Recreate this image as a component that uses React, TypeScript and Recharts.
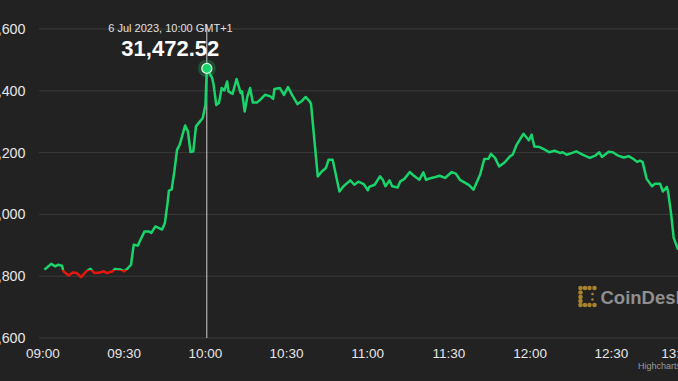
import { LineChart, Line, XAxis, YAxis, CartesianGrid, ReferenceLine, ReferenceDot } from "recharts";

// minutes after 09:00 (GMT+1), 6 Jul 2023
const minutes = [
  0, 2.5, 4, 5, 6.5, 7, 9, 10.5, 12, 13.5, 15.5, 17, 18.5, 20.5, 22, 23, 25, 26, 28, 29.5,
  30.5, 32, 33, 34.5, 35.5, 37, 38.5, 39.5, 41, 43.5, 44.5, 45.5, 46, 47, 48, 49, 50, 52, 53, 54,
  55, 56, 57.5, 58.5, 59.5, 60, 62, 62.5, 63.5, 64.5, 65.5, 66.5, 67.5, 68, 69.5, 71, 72.5, 73, 74, 75,
  76, 77, 78.5, 79.5, 81.5, 83.5, 84.5, 85, 87, 88.5, 90, 91.5, 93.5, 95, 96.5, 98, 98.5, 101, 102.5, 104,
  105, 106.5, 109, 110.5, 113, 114.5, 116, 118, 119.5, 120, 122, 124, 125, 126, 127.5, 128.5, 130.5, 131.5, 133, 135,
  136.5, 138.5, 140, 141, 143, 144.5, 146, 148, 150.5, 152, 153.5, 155.5, 157, 158.5, 161, 162.5, 164, 165, 166.5, 168,
  170, 172, 173, 174.5, 177, 179, 180, 181, 183, 185, 186.5, 188.5, 190.5, 191.5, 193, 195, 196.5, 199, 201.5, 203.5,
  205, 206, 208.5, 210, 212, 214, 216, 217.5, 219, 220, 221, 222.5, 224.5, 225.5, 227.5, 228.5, 230, 230.5, 231.5, 232.5,
  234, 235.5,
];

const prices = [
  30821, 30840, 30832, 30837, 30834, 30816, 30802, 30812, 30810, 30797, 30816, 30824, 30810, 30812, 30816, 30810, 30815, 30823, 30822, 30816,
  30823, 30837, 30902, 30899, 30918, 30945, 30945, 30940, 30961, 30951, 30972, 31037, 31077, 31080, 31139, 31209, 31226, 31288, 31269, 31202,
  31204, 31285, 31301, 31312, 31355, 31472.52, 31441, 31420, 31354, 31361, 31409, 31401, 31430, 31398, 31390, 31438, 31393, 31398, 31333, 31382,
  31409, 31362, 31362, 31369, 31387, 31382, 31374, 31406, 31409, 31387, 31412, 31387, 31357, 31366, 31380, 31366, 31358, 31123, 31139, 31150,
  31177, 31177, 31074, 31091, 31110, 31096, 31106, 31098, 31078, 31089, 31096, 31123, 31112, 31091, 31110, 31091, 31087, 31107, 31115, 31137,
  31125, 31112, 31136, 31112, 31118, 31121, 31125, 31118, 31137, 31132, 31112, 31102, 31094, 31080, 31129, 31179, 31180, 31196, 31183, 31155,
  31168, 31188, 31193, 31226, 31261, 31240, 31258, 31220, 31218, 31209, 31201, 31206, 31199, 31201, 31193, 31199, 31204, 31193, 31183, 31190,
  31201, 31186, 31203, 31201, 31190, 31184, 31188, 31180, 31170, 31174, 31170, 31115, 31091, 31099, 31099, 31074, 31089, 31069, 31005, 30924,
  30889, 30880,
];

const yTicks = [30600, 30800, 31000, 31200, 31400, 31600];
const xTicks = [0, 30, 60, 90, 120, 150, 180, 210, 240];

const hoverMinute = 60;
const hoverPrice = 31472.52;
const hoverLabel = "6 Jul 2023, 10:00 GMT+1";

const data = minutes.map((m, i) => ({ m, price: prices[i] }));

const GREEN = "#19d46a";
const RED = "#e3170d";
const FONT = "'Liberation Sans', Arial, sans-serif";

// line turns red below the opening price
const open = prices[0];
const maxP = Math.max(...prices);
const minP = Math.min(...prices);
const zoneOffset = (maxP - open) / (maxP - minP);

const fmtTime = (m: number) => {
  const h = 9 + Math.floor(m / 60);
  const mm = m % 60;
  return `${String(h).padStart(2, "0")}:${String(mm).padStart(2, "0")}`;
};

const XTick = (props: any) => {
  const { x, y, payload } = props;
  const last = payload.value === xTicks[xTicks.length - 1];
  return (
    <text
      x={last ? 695 : x - 1.5}
      y={y}
      dy="0.71em"
      textAnchor={last ? "end" : "middle"}
      fill="#e6e6e6"
      fontSize={13.5}
      fontFamily={FONT}
    >
      {fmtTime(payload.value)}
    </text>
  );
};

const YTick = (props: any) => {
  const { y, payload } = props;
  return (
    <text x={25.5} y={y} dy="0.355em" textAnchor="end" fill="#e6e6e6" fontSize={14.3} fontFamily={FONT}>
      {payload.value.toLocaleString("en-US")}
    </text>
  );
};

const HoverDot = (props: any) => {
  const { cx, cy } = props;
  return (
    <g>
      <circle cx={cx} cy={cy} r={9} fill={GREEN} fillOpacity={0.25} />
      <circle cx={cx} cy={cy} r={5} fill={GREEN} stroke="#e8ffe8" strokeWidth={1.2} />
    </g>
  );
};

export default function App() {
  return (
    <div
      style={{
        position: "absolute",
        left: 0,
        top: 0,
        width: 678,
        height: 381,
        overflow: "hidden",
        background: "#222222",
        fontFamily: FONT,
      }}
    >
      <LineChart width={700} height={381} data={data} margin={{ top: 29, right: 6, bottom: 0, left: 0 }}>
        <defs>
          <linearGradient id="zone" x1="0" y1="0" x2="0" y2="1">
            <stop offset={0} stopColor={GREEN} />
            <stop offset={zoneOffset} stopColor={GREEN} />
            <stop offset={zoneOffset} stopColor={RED} />
            <stop offset={1} stopColor={RED} />
          </linearGradient>
        </defs>
        <CartesianGrid vertical={false} stroke="#3a3a3a" strokeWidth={1} />
        <XAxis
          dataKey="m"
          type="number"
          domain={[-2, 240]}
          ticks={xTicks}
          axisLine={false}
          tickLine={false}
          tickMargin={4}
          height={43}
          tick={<XTick />}
          interval={0}
        />
        <YAxis
          type="number"
          domain={[30600, 31600]}
          ticks={yTicks}
          axisLine={false}
          tickLine={false}
          width={39}
          tick={<YTick />}
          interval={0}
        />
        <ReferenceLine
          segment={[
            { x: hoverMinute, y: 31615 },
            { x: hoverMinute, y: 30600 },
          ]}
          stroke="#cfcfcf"
          strokeWidth={1}
          ifOverflow="visible"
        />
        <Line
          type="linear"
          dataKey="price"
          stroke="url(#zone)"
          strokeWidth={2.5}
          dot={false}
          activeDot={false}
          isAnimationActive={false}
          strokeLinejoin="round"
        />
        <ReferenceDot x={hoverMinute} y={hoverPrice} shape={<HoverDot />} ifOverflow="visible" />
      </LineChart>

      <svg width={678} height={381} style={{ position: "absolute", left: 0, top: 0, pointerEvents: "none" }}>
        <text x={170.5} y={32} textAnchor="middle" fill="#e0e0e0" fontSize={11} fontFamily={FONT}>
          {hoverLabel}
        </text>
        <text x={170.3} y={56} textAnchor="middle" fill="#ffffff" fontSize={22} fontWeight="bold" fontFamily={FONT}>
          {hoverPrice.toLocaleString("en-US", { minimumFractionDigits: 2 })}
        </text>

        <g fill="#a8832a">
          {[288, 292.5, 297, 301, 305].map((cy) => (
            <circle key={"l" + cy} cx={580.5} cy={cy} r={2.3} />
          ))}
          {[585, 589.5, 594.5].map((cx) => (
            <circle key={"t" + cx} cx={cx} cy={288} r={2.3} />
          ))}
          {[585, 589.5, 594.5].map((cx) => (
            <circle key={"b" + cx} cx={cx} cy={305} r={2.3} />
          ))}
          <circle cx={592.5} cy={294} r={1.3} />
          <circle cx={592.5} cy={299.5} r={1.3} />
        </g>
        <text x={600.5} y={303.5} fill="#8f8f8f" fontSize={18.5} fontWeight="bold" fontFamily={FONT}>
          CoinDesk
        </text>
        <text x={638} y={369} fill="#9a9a9a" fontSize={9} fontFamily={FONT}>
          Highcharts.com
        </text>
      </svg>
    </div>
  );
}
